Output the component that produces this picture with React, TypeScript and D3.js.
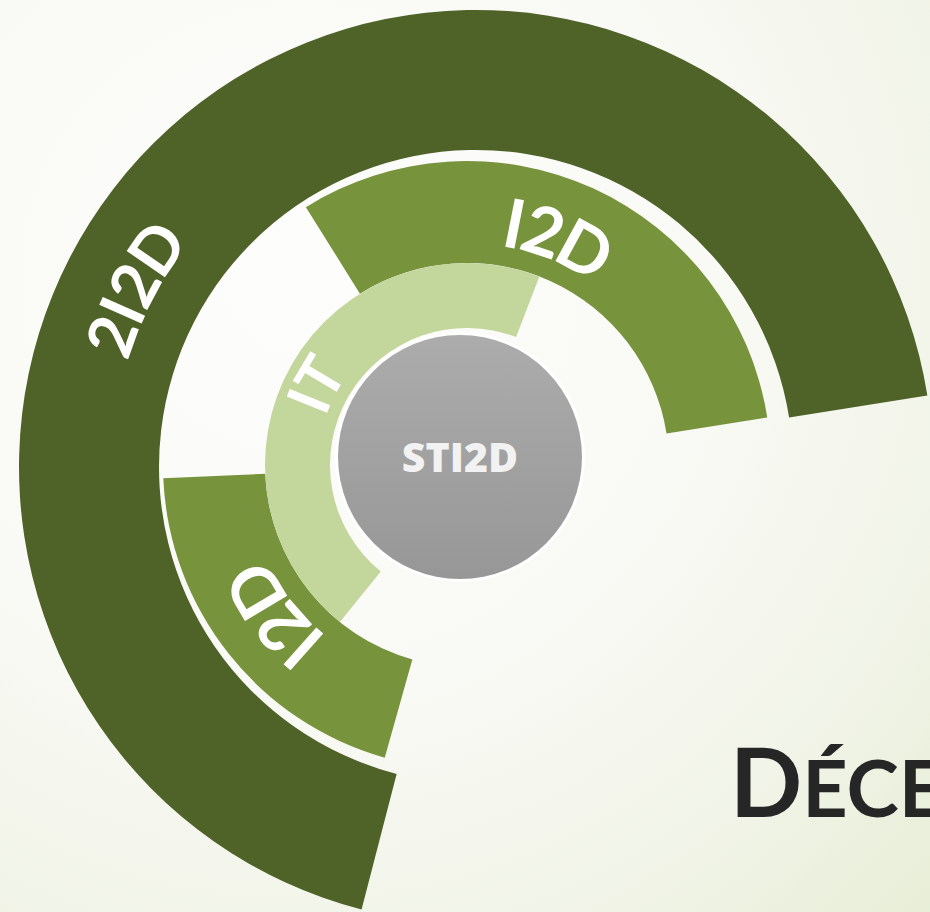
import React from "react";
import * as d3 from "d3";

// ---- data ----
const segmentLabels = ["2I2D", "I2D", "I2D", "IT"];
const segmentLevel = [3, 2, 2, 1];
const segmentStartDeg = [-165.5, -32, 195.7, -141];
const segmentEndDeg = [81, 81, 267.5, 21];
const labelAngleDeg = [-62.5, 21.8, 232.3, -62];
const centerLabel = "STI2D";
const titleCap = "D";
const titleRest = "ÉCE";

// ---- layout ----
const W = 930;
const H = 912;
type Level = { cx: number; cy: number; r0: number; r1: number; color: string; labelR: number; font: number };
const levels: Record<number, Level> = {
  1: { cx: 467, cy: 465, r0: 137, r1: 202, color: "#c3d69b", labelR: 171, font: 60 },
  2: { cx: 467, cy: 465, r0: 202, r1: 304, color: "#77933c", labelR: 246, font: 68 },
  3: { cx: 476, cy: 467, r0: 317, r1: 457, color: "#4f6228", labelR: 387, font: 64 },
};
const hub = { cx: 460, cy: 457, r: 122 };
const rad = (d: number) => (d * Math.PI) / 180;

function labelPath(cx: number, cy: number, r: number, midDeg: number) {
  const p = d3.path();
  const a0 = rad(midDeg - 70) - Math.PI / 2;
  const a1 = rad(midDeg + 70) - Math.PI / 2;
  p.moveTo(cx + r * Math.cos(a0), cy + r * Math.sin(a0));
  p.arc(cx, cy, r, a0, a1, false);
  return p.toString();
}

export default function App() {
  const arcGen = d3.arc<any>();
  const font = "Lato, 'Open Sans', sans-serif";
  return (
    <svg
      width={W}
      height={H}
      viewBox={`0 0 ${W} ${H}`}
      style={{ position: "absolute", left: 0, top: 0, display: "block" }}
    >
      <defs>
        <radialGradient id="bg" cx="300" cy="280" r="900" gradientUnits="userSpaceOnUse">
          <stop offset="0" stopColor="#fdfdfc" />
          <stop offset="0.45" stopColor="#f9faf5" />
          <stop offset="0.75" stopColor="#f1f4e8" />
          <stop offset="1" stopColor="#e7eed6" />
        </radialGradient>
        <linearGradient id="hubGrad" x1="0" y1="0" x2="0" y2="1">
          <stop offset="0" stopColor="#acacac" />
          <stop offset="1" stopColor="#979797" />
        </linearGradient>
        {segmentLabels.map((_, i) => {
          const L = levels[segmentLevel[i]];
          return <path key={i} id={`lp${i}`} d={labelPath(L.cx, L.cy, L.labelR, labelAngleDeg[i])} fill="none" />;
        })}
      </defs>
      <rect x={0} y={0} width={W} height={H} fill="url(#bg)" />

      {segmentLabels.map((_, i) => {
        const L = levels[segmentLevel[i]];
        const d = arcGen({
          innerRadius: L.r0,
          outerRadius: L.r1,
          startAngle: rad(segmentStartDeg[i]),
          endAngle: rad(segmentEndDeg[i]),
        }) as string;
        return <path key={i} d={d} transform={`translate(${L.cx},${L.cy})`} fill={L.color} />;
      })}

      {segmentLabels.map((t, i) => {
        const L = levels[segmentLevel[i]];
        return (
          <text
            key={i}
            fill="#ffffff"
            fontFamily={font}
            fontWeight={700}
            fontSize={L.font}
            dy="0.36em"
          >
            <textPath href={`#lp${i}`} startOffset="50%" textAnchor="middle">
              {t}
            </textPath>
          </text>
        );
      })}

      <circle cx={hub.cx} cy={hub.cy} r={hub.r + 3} fill="#ffffff" />
      <circle cx={hub.cx} cy={hub.cy} r={hub.r} fill="url(#hubGrad)" />
      <text
        x={hub.cx}
        y={hub.cy}
        dy="0.36em"
        textAnchor="middle"
        fill="#f2f2f2"
        fontFamily="'Open Sans', sans-serif"
        fontWeight={800}
        fontSize={41}
      >
        {centerLabel}
      </text>

      <text x={730} y={817} fill="#262626" fontFamily={font} fontWeight={700}>
        <tspan fontSize={95}>{titleCap}</tspan>
        <tspan fontSize={79}>{titleRest}</tspan>
      </text>
    </svg>
  );
}
